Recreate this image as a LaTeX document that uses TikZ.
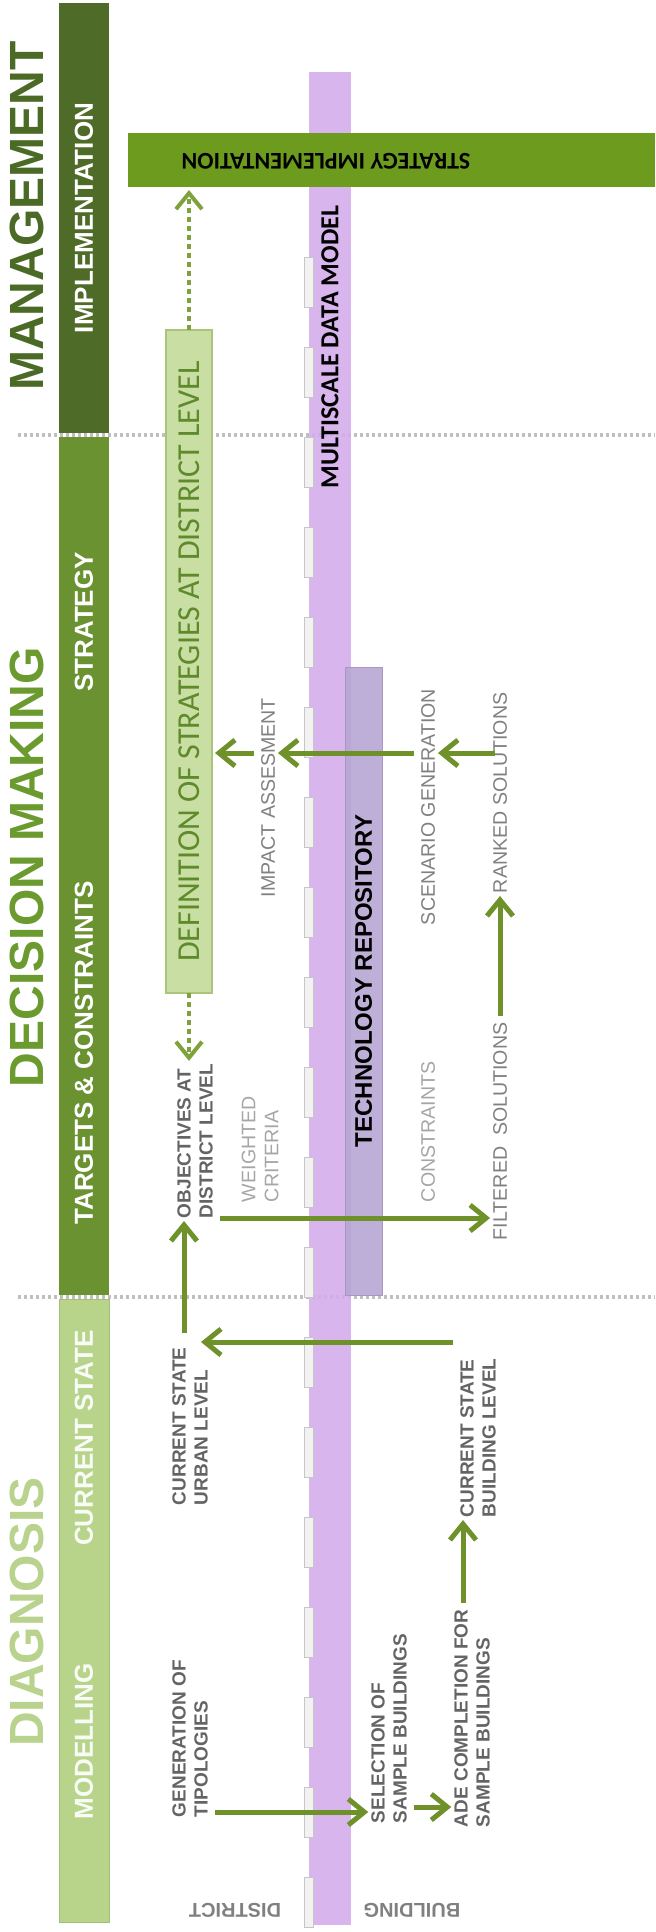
\documentclass[tikz,border=0pt]{standalone}
\usepackage{fontspec}
\setmainfont{Liberation Sans}
\newfontfamily\calibri{Carlito}
\usetikzlibrary{arrows.meta}

\definecolor{mgmttext}{HTML}{4A6A26}
\definecolor{impgreen}{HTML}{4E6B27}
\definecolor{dmgreen}{HTML}{6A9231}
\definecolor{dmtext}{HTML}{6B9A2E}
\definecolor{diaggreen}{HTML}{B8D48B}
\definecolor{diagedge}{HTML}{A3BE7A}
\definecolor{diagtext}{HTML}{B9D38E}
\definecolor{impboxgreen}{HTML}{6C9B1E}
\definecolor{deffill}{HTML}{C9DEA2}
\definecolor{defedge}{HTML}{A9C57C}
\definecolor{deftext}{HTML}{5E8A2B}
\definecolor{mdmpurple}{HTML}{D4ADEA}
\definecolor{techfill}{HTML}{B6A6D4}
\definecolor{techedge}{HTML}{A898C0}
\definecolor{arrowgreen}{HTML}{6E9229}
\definecolor{dotgreen}{HTML}{7FA33A}
\definecolor{taskgray}{HTML}{646464}
\definecolor{notegray}{HTML}{808080}
\definecolor{faintgray}{HTML}{A6A6A6}

\begin{document}
\begin{tikzpicture}[
  x=0.5pt, y=-0.5pt,
  every node/.style={inner sep=0pt, outer sep=0pt},
  heading/.style={rotate=90, font=\fontsize{24}{24}\selectfont\bfseries},
  bar/.style={rotate=90, minimum height=25pt, text=white, font=\fontsize{13}{13}\selectfont\bfseries},
  barlabel/.style={rotate=90, text=white, font=\fontsize{13}{13}\selectfont\bfseries},
  task/.style={rotate=90, anchor=west, align=left, text=taskgray, font=\fontsize{9.5}{11}\selectfont\bfseries},
  note/.style={rotate=90, anchor=west, align=left, text=notegray, font=\fontsize{9.8}{11.5}\selectfont},
  level/.style={rotate=180, text=notegray, font=\fontsize{10}{10}\selectfont\bfseries},
  tab/.style={draw=gray!45, fill=gray!10, line width=0.4pt},
  divider/.style={draw=gray!50, line width=1.6pt, dash pattern=on 1.6pt off 1.4pt},
  flow/.style={draw=arrowgreen, line width=2.5pt, shorten <=3.5pt, shorten >=1.5pt, -{Straight Barb[length=8pt,width=13pt]}},
  dotflow/.style={flow, draw=dotgreen, line width=2pt, shorten <=0pt, dash pattern=on 2.5pt off 2pt}
]
\useasboundingbox (0,0) rectangle (655,1932);
\draw[divider] (18,435) -- (655,435);
\draw[divider] (18,1297) -- (655,1297);

\node[heading, text=mgmttext] (management) at (27,216) {MANAGEMENT};
\node[heading, text=dmtext] (decision) at (27,867) {DECISION MAKING};
\node[heading, text=diagtext] (diagnosis) at (27,1612) {DIAGNOSIS};

\node[bar, fill=impgreen, minimum width=215pt] (impbar) at (84,218) {IMPLEMENTATION};
\node[bar, fill=dmgreen, minimum width=429pt] (dmbar) at (84,866) {};
\node[barlabel] (strategy) at (84,622) {STRATEGY};
\node[barlabel] (targets) at (84,1053) {TARGETS \& CONSTRAINTS};
\node[bar, fill=diaggreen, draw=diagedge, minimum width=311.5pt] (diagbar) at (84,1610.5) {};
\node[barlabel, text=white!92!diaggreen] (current) at (84,1438) {CURRENT STATE};
\node[barlabel, text=white!92!diaggreen] (modelling) at (84,1741) {MODELLING};

\node[fill=mdmpurple, fill opacity=0.9, minimum width=21pt, minimum height=926.5pt] (mdm) at (330,998.5) {};
\foreach \k in {0,...,18}
  \draw[tab] (304,{257+90*\k}) rectangle ++(9,50);
\node[rotate=90, font={\calibri\bfseries\fontsize{13}{13}\selectfont}] (mdmtext) at (330,347) {MULTISCALE DATA MODEL};

\node[rotate=90, fill=techfill, fill opacity=0.9, text opacity=1, draw=techedge, minimum width=314pt, minimum height=18.5pt, font=\fontsize{12}{12}\selectfont\bfseries] (techrepo) at (363.5,981) {TECHNOLOGY REPOSITORY};

\node[rotate=90, fill=deffill, draw=defedge, line width=0.8pt, minimum width=331.5pt, minimum height=23pt, text=deftext, font={\calibri\fontsize{16}{16}\selectfont}] (defbox) at (189,661.5) {DEFINITION OF STRATEGIES AT DISTRICT LEVEL};

\node[fill=impboxgreen, minimum width=263.5pt, minimum height=27pt] (stratimp) at (391.5,160) {};
\node[rotate=180, font={\calibri\bfseries\fontsize{12}{12}\selectfont}] (stratimptext) at (326,161) {STRATEGY IMPLEMENTATION};

\node[task] (gen) at (190,1817) {GENERATION OF\\TIPOLOGIES};
\node[task] (sel) at (389,1823) {SELECTION OF\\SAMPLE BUILDINGS};
\node[task] (ade) at (472,1827) {ADE COMPLETION FOR\\SAMPLE BUILDINGS};
\node[task] (urban) at (190,1505) {CURRENT STATE\\URBAN LEVEL};
\node[task] (bstate) at (478,1517) {CURRENT STATE\\BUILDING LEVEL};
\node[task] (objectives) at (195,1218) {OBJECTIVES AT\\DISTRICT LEVEL};
\node[note, text=faintgray] (weighted) at (260,1202) {WEIGHTED\\CRITERIA};
\node[note, text=faintgray] (constraints) at (428,1202) {CONSTRAINTS};
\node[note] (filtered) at (500,1240) {FILTERED\ \ SOLUTIONS};
\node[note] (impact) at (268,897) {IMPACT ASSESMENT};
\node[note] (scenario) at (428,925) {SCENARIO GENERATION};
\node[note] (ranked) at (500,893) {RANKED SOLUTIONS};
\node[level] (district) at (235,1910) {DISTRICT};
\node[level] (building) at (412,1910) {BUILDING};

\coordinate (r1) at (0,753);
\coordinate (r2) at (0,1218);
\coordinate (r3) at (0,1342);
\coordinate (r4) at (0,1812);
\coordinate (r5) at (0,1807);

\draw[flow] (impact.north |- r1) -- (defbox.south |- r1);
\draw[flow] (scenario.north |- r1) -- (impact.south |- r1);
\draw[flow, shorten <=-1pt] (ranked.north |- r1) -- (scenario.south |- r1);
\draw[flow] (objectives.south |- r2) -- (filtered.north |- r2);
\draw[flow] (filtered.east) -- (ranked.west);
\draw[flow, shorten <=7pt] ([xshift=-3pt]urban.east) -- ([xshift=-3pt]urban.east |- objectives.west);
\draw[flow] (bstate.north |- r3) -- ([xshift=4pt]urban.east |- r3);
\draw[flow] ([xshift=-4.5pt]ade.east) -- ([xshift=-4.5pt]ade.east |- bstate.west);
\draw[flow] (gen.south |- r4) -- (sel.north |- r4);
\draw[flow] (sel.south |- r5) -- (ade.north |- r5);
\draw[dotflow] (defbox.east) -- (defbox.east |- stratimp.south);
\draw[dotflow] (defbox.west) -- (defbox.west |- objectives.east);
\end{tikzpicture}
\end{document}
